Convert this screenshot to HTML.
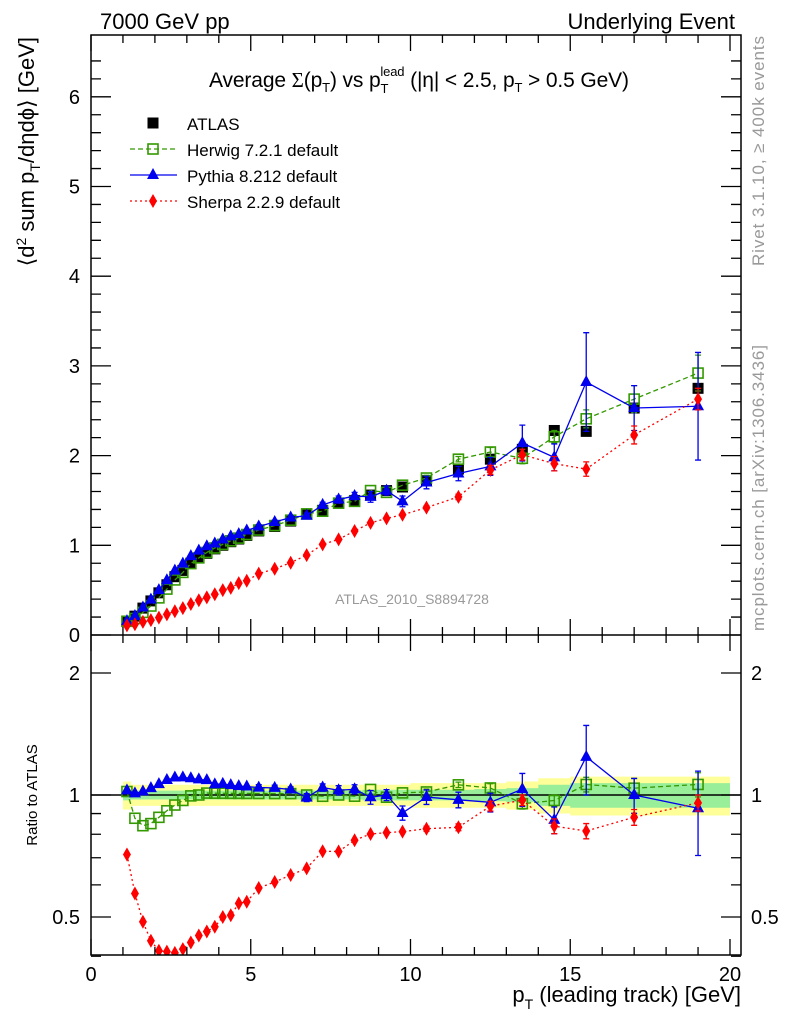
<!DOCTYPE html>
<html><head><meta charset="utf-8"><style>
body{margin:0;background:#fff;width:786px;height:1024px;overflow:hidden}
svg{font-family:"Liberation Sans",sans-serif}
</style></head><body>
<svg id="c" width="786" height="1024" xmlns="http://www.w3.org/2000/svg">
<defs><clipPath id="cm"><rect x="91" y="35" width="650" height="600"/></clipPath>
<clipPath id="cr"><rect x="91" y="635" width="650" height="320"/></clipPath></defs>
<g id="bands" clip-path="url(#cr)"></g>
<g id="marks"></g>
<g id="axes"></g>
<text x="100" y="29" font-size="22">7000 GeV pp</text>
<text x="735" y="29" font-size="22" text-anchor="end">Underlying Event</text>
<text x="209" y="87" font-size="21" textLength="420">Average <tspan font-family="Liberation Serif">Σ</tspan>(p<tspan font-size="13" dy="5">T</tspan><tspan dy="-5">) vs p</tspan><tspan font-size="13" dy="6">T</tspan><tspan font-size="13" dx="-8" dy="-17">lead</tspan><tspan dy="11"> (|η| &lt; 2.5, p</tspan><tspan font-size="13" dy="5">T</tspan><tspan dy="-5"> &gt; 0.5 GeV)</tspan></text>
<g id="legend"></g>
<text x="412" y="604" font-size="14" fill="#999" text-anchor="middle">ATLAS_2010_S8894728</text>
<text transform="translate(764,266) rotate(-90)" font-size="17" fill="#999" textLength="230">Rivet 3.1.10, ≥ 400k events</text>
<text transform="translate(764,631) rotate(-90)" font-size="17" fill="#999" textLength="286">mcplots.cern.ch [arXiv:1306.3436]</text>
<text transform="translate(34,37) rotate(-90)" font-size="22" text-anchor="end">⟨d<tspan font-size="14" dy="-8">2</tspan><tspan dy="8"> sum p</tspan><tspan font-size="14" dy="6">T</tspan><tspan dy="-6">/dηdϕ⟩ [GeV]</tspan></text>
<text transform="translate(37,795) rotate(-90)" font-size="15" text-anchor="middle">Ratio to ATLAS</text>
<text x="741" y="1002" font-size="22" text-anchor="end">p<tspan font-size="14" dy="7">T</tspan><tspan dy="-7"> (leading track) [GeV]</tspan></text>
</svg>
<script>
const xs=[1.125,1.375,1.625,1.875,2.125,2.375,2.625,2.875,3.125,3.375,3.625,3.875,4.125,4.375,4.625,4.875,5.25,5.75,6.25,6.75,7.25,7.75,8.25,8.75,9.25,9.75,10.5,11.5,12.5,13.5,14.5,15.5,17,19];
const atlas=[0.15,0.21,0.30,0.38,0.47,0.56,0.65,0.72,0.80,0.86,0.91,0.96,1.00,1.04,1.07,1.11,1.16,1.21,1.27,1.35,1.39,1.47,1.50,1.56,1.61,1.65,1.72,1.85,1.96,2.07,2.28,2.27,2.53,2.75];
const herwig=[0.153,0.184,0.252,0.323,0.414,0.512,0.614,0.698,0.796,0.86,0.92,0.97,1.01,1.05,1.08,1.12,1.17,1.22,1.28,1.35,1.38,1.47,1.49,1.61,1.59,1.67,1.75,1.96,2.04,1.97,2.21,2.41,2.63,2.92];
const pythia=[0.154,0.212,0.306,0.395,0.50,0.61,0.718,0.796,0.88,0.94,0.99,1.02,1.065,1.10,1.125,1.165,1.21,1.26,1.31,1.33,1.45,1.51,1.55,1.54,1.61,1.49,1.70,1.80,1.88,2.14,1.98,2.82,2.53,2.55];
const sherpa=[0.107,0.12,0.146,0.166,0.194,0.23,0.265,0.30,0.346,0.387,0.419,0.454,0.50,0.525,0.578,0.605,0.684,0.738,0.806,0.89,1.01,1.066,1.16,1.25,1.30,1.34,1.42,1.54,1.84,2.01,1.91,1.85,2.23,2.63];
const pythiaErr=[0,0,0,0,0,0,0,0,0,0,0,0,0,0,0,0,0.02,0.02,0.02,0.03,0.03,0.04,0.04,0.06,0.05,0.06,0.07,0.08,0.1,0.2,0.15,0.55,0.25,0.6];
const herwigErr=[0,0,0,0,0,0,0,0,0,0,0,0,0,0,0,0,0,0,0,0,0,0,0,0,0,0,0.03,0.03,0.05,0.06,0.07,0.1,0.15,0.2];
const sherpaErr=[0,0,0,0,0,0,0,0,0,0,0,0,0,0,0,0,0,0,0,0,0,0,0,0,0,0,0.02,0.03,0.05,0.06,0.08,0.08,0.1,0.12];
const bandYellow=[0.08,0.06,0.06,0.06,0.06,0.06,0.06,0.06,0.06,0.06,0.06,0.06,0.06,0.06,0.06,0.06,0.06,0.06,0.06,0.06,0.06,0.06,0.06,0.06,0.06,0.06,0.07,0.07,0.07,0.08,0.10,0.11,0.11,0.11];
const bandGreen=[0.03,0.025,0.025,0.025,0.025,0.025,0.025,0.025,0.025,0.025,0.025,0.025,0.025,0.025,0.025,0.025,0.025,0.025,0.025,0.025,0.025,0.025,0.025,0.03,0.03,0.03,0.03,0.03,0.035,0.04,0.06,0.07,0.07,0.07];
const edges=[1,1.25,1.5,1.75,2,2.25,2.5,2.75,3,3.25,3.5,3.75,4,4.25,4.5,4.75,5,5.5,6,6.5,7,7.5,8,8.5,9,9.5,10,11,12,13,14,15,16,18,20];
const NS="http://www.w3.org/2000/svg";
const sx=v=>91+v*31.95, sy=v=>635-v*89.7, ry=r=>795-176*Math.log(r);
function mk(tag,attrs,parent){const e=document.createElementNS(NS,tag);for(const k in attrs)e.setAttribute(k,attrs[k]);parent.appendChild(e);return e;}
const bands=document.getElementById('bands'),marks=document.getElementById('marks'),axes=document.getElementById('axes');
function bandPath(rel){let top='',bot='';for(let i=0;i<xs.length;i++){const a=sx(edges[i]),b=sx(edges[i+1]);top+=(i?'L':'M')+a+','+ry(1+rel[i])+'L'+b+','+ry(1+rel[i]);}
for(let i=xs.length-1;i>=0;i--){const a=sx(edges[i]),b=sx(edges[i+1]);bot+='L'+b+','+ry(1-rel[i])+'L'+a+','+ry(1-rel[i]);}return top+bot+'Z';}
let yb=mk('path',{d:bandPath(bandYellow),fill:'#ffff99'},bands);


let gb=mk('path',{d:bandPath(bandGreen),fill:'#99ee99'},bands);


let ul=mk('line',{x1:91,x2:741,y1:ry(1),y2:ry(1),stroke:'#000','stroke-width':1.5},bands);


function marker(type,x,y,col,g){
 if(type==='sq')return mk('rect',{x:x-5.5,y:y-5.5,width:11,height:11,fill:'#000'},g);
 if(type==='osq')return mk('rect',{x:x-5,y:y-5,width:10,height:10,fill:'none',stroke:col,'stroke-width':1.6},g);
 if(type==='tri')return mk('path',{d:`M${x},${y-7}L${x+6},${y+4}L${x-6},${y+4}Z`,fill:col},g);
 if(type==='dia')return mk('path',{d:`M${x},${y-7}L${x+4},${y}L${x},${y+7}L${x-4},${y}Z`,fill:col},g);
}
function drawSeries(name,vals,errs,col,dash,type,ratio){
 const g=mk('g',{'clip-path':ratio?'url(#cr)':'url(#cm)'},marks);
 
 
 const Y=i=>ratio?ry(vals[i]/atlas[i]):sy(vals[i]);
 const E=(i,s)=>ratio?ry((vals[i]+s*errs[i])/atlas[i]):sy(vals[i]+s*errs[i]);
 if(col){let d='';xs.forEach((x,i)=>d+=(i?'L':'M')+sx(x)+','+Y(i));
  const l=mk('path',{d:d,fill:'none',stroke:col,'stroke-width':1.3,'stroke-dasharray':dash||'none'},g);
  
  }
 xs.forEach((x,i)=>{
  if(errs&&errs[i]>0){const X=sx(x);mk('path',{d:`M${X},${E(i,1)}V${E(i,-1)}M${X-3},${E(i,1)}h6M${X-3},${E(i,-1)}h6`,stroke:col,'stroke-width':1.3},g);}
  const m=marker(type,sx(x),Y(i),col,g);
  
  
 });
}
drawSeries('atlas',atlas,null,null,null,'sq',false);
drawSeries('herwig',herwig,herwigErr,'#339900','5,3','osq',false);
drawSeries('pythia',pythia,pythiaErr,'#0000ee',null,'tri',false);
drawSeries('sherpa',sherpa,sherpaErr,'#ff0000','2,3','dia',false);
drawSeries('herwig',herwig,herwigErr,'#339900','5,3','osq',true);
drawSeries('pythia',pythia,pythiaErr,'#0000ee',null,'tri',true);
drawSeries('sherpa',sherpa,sherpaErr,'#ff0000','2,3','dia',true);
let fr=mk('rect',{x:91,y:35,width:650,height:920,fill:'none',stroke:'#000','stroke-width':1.5},axes);


mk('line',{x1:91,x2:741,y1:635,y2:635,stroke:'#000','stroke-width':1.5},axes);
let t='';
for(let v=0;v<=20;v++){const X=sx(v),L=v%5?8:16;t+=`M${X},955v${-L}M${X},635v${-L}M${X},635v${L}M${X},35v${L}`;}
for(let v=0;v<=6.6;v+=0.2){const vv=Math.round(v*10)/10,Y=sy(vv),L=Math.abs(vv-Math.round(vv))<1e-6?20:10;t+=`M91,${Y}h${L}M741,${Y}h${-L}`;}
[0.4,0.5,0.6,0.7,0.8,0.9,1,2].forEach(r=>{const Y=ry(r),L=(r===0.5||r===1||r===2)?20:10;t+=`M91,${Y}h${L}M741,${Y}h${-L}`;});
mk('path',{d:t,stroke:'#000','stroke-width':1.3,fill:'none'},axes);
[0,5,10,15,20].forEach(v=>{const e=mk('text',{x:sx(v),y:981,'font-size':20,'text-anchor':'middle'},axes);e.textContent=v;
 
 });
[0,1,2,3,4,5,6].forEach(v=>{const e=mk('text',{x:80,y:sy(v)+7,'font-size':20,'text-anchor':'end'},axes);e.textContent=v;
 
 });
[[0.5,'0.5'],[1,'1'],[2,'2']].forEach(([r,s])=>{[[80,'end'],[751,'start']].forEach(([x,a])=>{const e=mk('text',{x:x,y:ry(r)+7,'font-size':20,'text-anchor':a},axes);e.textContent=s;
 
 });});
const lg=document.getElementById('legend');
const leg=[['ATLAS',null,null,'sq'],['Herwig 7.2.1 default','#339900','5,3','osq'],['Pythia 8.212 default','#0000ee',null,'tri'],['Sherpa 2.2.9 default','#ff0000','2,3','dia']];
leg.forEach((l,i)=>{const Y=123+i*26;const g=mk('g',{},lg);
 
 
 if(l[1])mk('line',{x1:130,x2:177,y1:Y,y2:Y,stroke:l[1],'stroke-width':1.3,'stroke-dasharray':l[2]||'none'},g);
 marker(l[3],153,Y,l[1],g);
 const tx=mk('text',{x:187,y:Y+7,'font-size':17},g);tx.textContent=l[0];});
</script>
</body></html>
